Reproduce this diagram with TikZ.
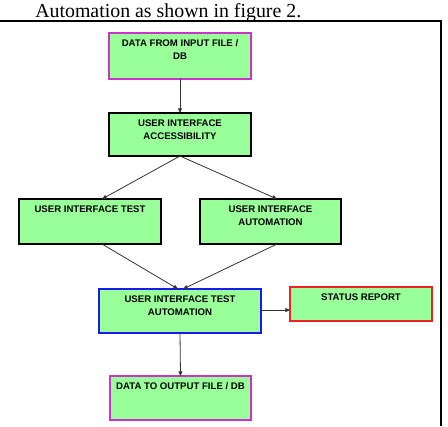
\documentclass[tikz,border=0pt]{standalone}
\usepackage{fontspec}
\setmainfont{Liberation Serif}
\setsansfont{Liberation Sans}
\usetikzlibrary{arrows.meta,calc}
\definecolor{boxgreen}{HTML}{99FF99}
\definecolor{mag}{HTML}{CC33CC}
\definecolor{bblue}{HTML}{1A1AEE}
\definecolor{rred}{HTML}{EE2222}
\definecolor{conn}{HTML}{333333}
\tikzset{
  box/.style={draw=black, fill=boxgreen, line width=1.4pt, inner sep=0pt, outer sep=0pt, rectangle},
  boxtext/.style={label={[anchor=north, inner sep=0pt, align=center, yshift=-4.9pt,
      font=\sffamily\bfseries\fontsize{7.2}{9.4}\selectfont]north:{#1}}},
  conn/.style={draw=conn, line width=0.6pt, -{Triangle[length=3.5pt,width=3pt]}},
  plainconn/.style={draw=conn, line width=0.6pt}
}
\begin{document}
\begin{tikzpicture}[x=0.75pt,y=-0.75pt]
\useasboundingbox (0,0) rectangle (448,426);
% header text and frame
\node[anchor=base west, inner sep=0pt, font=\fontsize{14.9}{17}\selectfont] (hdr) at (35,17.5) {Automation as shown in figure 2.};
\draw[line width=0.9pt] (0,21) -- (441,21) -- (441,426);
% boxes
\node[box, draw=mag, minimum width=106.5pt, minimum height=34.5pt,
  boxtext={DATA FROM INPUT FILE /\\DB}] (b1) at (180,56) {};
\node[box, minimum width=106.5pt, minimum height=32.25pt,
  boxtext={USER INTERFACE\\ACCESSIBILITY}] (b2) at (180,134.5) {};
\node[box, minimum width=106.5pt, minimum height=33.75pt,
  boxtext={USER INTERFACE TEST}] (b3) at (90,221.5) {};
\node[box, minimum width=105.75pt, minimum height=33.75pt,
  boxtext={USER INTERFACE\\AUTOMATION}] (b4) at (270.5,221.5) {};
\node[box, draw=bblue, minimum width=121.5pt, minimum height=33pt,
  boxtext={USER INTERFACE TEST\\AUTOMATION}] (b5) at (180,311) {};
\node[box, draw=rred, minimum width=106.5pt, minimum height=25.5pt,
  boxtext={STATUS REPORT}] (b6) at (361,304) {};
\node[box, draw=mag, minimum width=105.75pt, minimum height=33pt,
  boxtext={DATA TO OUTPUT FILE / DB}] (b7) at (180.5,398) {};
% connectors
\draw[conn] (b1.south) -- (b2.north);
\draw[conn] (b2.south) -- ($(b3.north)+(12,0)$);
\draw[conn] (b2.south) -- ($(b4.north)+(6.5,0)$);
\draw[conn] ($(b3.south)+(12,0)$) -- ($(b5.north)+(-2,0)$);
\draw[conn] ($(b4.south)+(6.5,0)$) -- ($(b5.north)+(3,0)$);
\draw[conn] ($(b5.east)+(0,-1)$) -- ($(b6.west)+(0,6)$);
\draw[conn] (b5.south) -- (b7.north);
\end{tikzpicture}
\end{document}
